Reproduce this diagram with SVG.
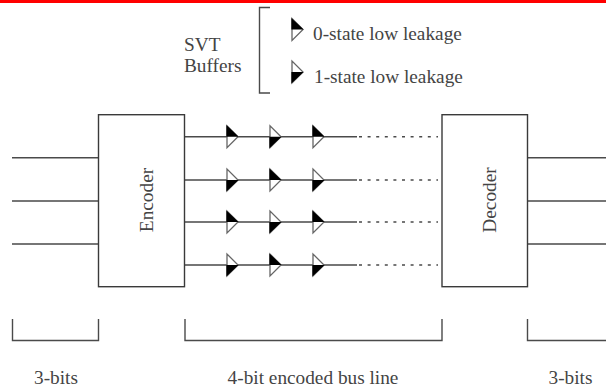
<svg xmlns="http://www.w3.org/2000/svg" xmlns:xlink="http://www.w3.org/1999/xlink" width="606" height="387" viewBox="0 0 606 387">
<style>
text{font-family:"Liberation Serif","Times New Roman",serif;font-size:19.3px;fill:#444}
.l{fill:none;stroke:#4a4a4a;stroke-width:1.4}
.d{fill:none;stroke:#4a4a4a;stroke-width:1.4;stroke-dasharray:3 5.6}
.b{fill:#fff;stroke:#3a3a3a;stroke-width:1.4}
.o{fill:#fff;stroke:#666;stroke-width:1.3}
.k{fill:#000}
</style>
<defs>
<g id="top"><path class="o" d="M0-11V11L11 0Z"/><path class="k" d="M-.6-11.6V0H11.6Z"/></g>
<g id="bot"><path class="o" d="M0-11V11L11 0Z"/><path class="k" d="M-.6 11.6V0H11.6Z"/></g>
</defs>
<rect width="606" height="387" fill="#fff"/>
<rect id="top-bar" width="606" height="3" fill="#f00"/>
<g id="connectors">
<path class="l" d="M12 157.700H98.500M12 201H98.500M12 244H98.500M527.500 157.700H606M527.500 201H606M527.500 244H606"/>
<path class="l" d="M184.500 136.700H357M184.500 180H357M184.500 222H357M184.500 265H357"/>
<path class="d" d="M359 136.700H438M359 180H438M359 222H438M359 265H438"/>
</g>
<g id="encoder"><rect class="b" x="98.500" y="114.700" width="86" height="172"/><text transform="translate(153 200) rotate(-90)" text-anchor="middle">Encoder</text></g>
<g id="decoder"><rect class="b" x="442" y="114.700" width="85.500" height="172"/><text transform="translate(496 200) rotate(-90)" text-anchor="middle">Decoder</text></g>
<g id="buffers">
<use xlink:href="#top" href="#top" x="227" y="136.700"/><use xlink:href="#bot" href="#bot" x="270" y="136.700"/><use xlink:href="#top" href="#top" x="313" y="136.700"/>
<use xlink:href="#bot" href="#bot" x="227" y="180"/><use xlink:href="#top" href="#top" x="270" y="180"/><use xlink:href="#bot" href="#bot" x="313" y="180"/>
<use xlink:href="#top" href="#top" x="227" y="222"/><use xlink:href="#bot" href="#bot" x="270" y="222"/><use xlink:href="#top" href="#top" x="313" y="222"/>
<use xlink:href="#bot" href="#bot" x="227" y="265"/><use xlink:href="#top" href="#top" x="270" y="265"/><use xlink:href="#bot" href="#bot" x="313" y="265"/>
</g>
<g id="legend">
<text x="184" y="51">SVT</text><text x="184" y="72">Buffers</text>
<path class="l" d="M270 7.500H259.500V93H270"/>
<use xlink:href="#top" href="#top" x="292" y="29.500"/><use xlink:href="#bot" href="#bot" x="292" y="72"/>
<text x="313" y="40">0-state low leakage</text><text x="314" y="83">1-state low leakage</text>
</g>
<g id="braces">
<path class="l" d="M12.500 319V340.500H98.500V319M185 319V340.500H442V319M527.500 319V340.500H606"/>
<text x="56" y="384" text-anchor="middle">3-bits</text><text x="313" y="384" text-anchor="middle">4-bit encoded bus line</text><text x="570.500" y="384" text-anchor="middle">3-bits</text>
</g>
</svg>
